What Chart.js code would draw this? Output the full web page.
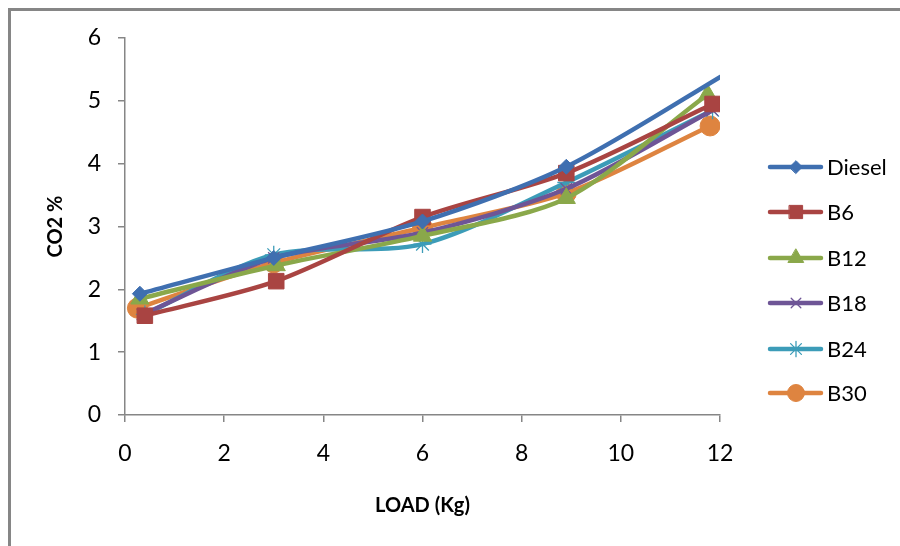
<!DOCTYPE html>
<html>
<head>
<meta charset="utf-8">
<script src="https://cdn.jsdelivr.net/npm/chart.js@4/dist/chart.umd.min.js"></script>
<style>
  html, body { margin: 0; padding: 0; background: #fff; }
  #wrap { position: relative; width: 900px; height: 546px; }
</style>
</head>
<body>
<div id="wrap"><canvas id="co2Chart"></canvas></div>
<script>
/* ---------------- DATA ---------------- */
const seriesNames = ["Diesel", "B6", "B12", "B18", "B24", "B30"];

const dieselLoad = [0.3, 3, 6, 8.9, 12.3];
const dieselCO2  = [1.93, 2.5, 3.08, 3.95, 5.52];

const b6Load = [0.4, 3.05, 6, 8.9, 11.85];
const b6CO2  = [1.58, 2.13, 3.15, 3.85, 4.95];

const b12Load = [0.3, 3.05, 6, 8.9, 11.75];
const b12CO2  = [1.85, 2.38, 2.85, 3.45, 5.1];

const b18Load = [0.35, 3, 6, 8.9, 11.85];
const b18CO2  = [1.6, 2.5, 2.9, 3.6, 4.85];

const b24Load = [0.4, 3, 6, 8.9, 11.85];
const b24CO2  = [1.6, 2.55, 2.72, 3.7, 4.85];

const b30Load = [0.25, 3, 6, 8.9, 11.8];
const b30CO2  = [1.7, 2.42, 2.98, 3.53, 4.6];

const xTicks = [0, 2, 4, 6, 8, 10, 12];
const yTicks = [0, 1, 2, 3, 4, 5, 6];

/* ---------------- STYLE ---------------- */
const colors = ["#3F6FB0", "#A94442", "#8AA84A", "#6E5596", "#3C9CB8", "#DE8440"];
const markers = ["rectRot", "rect", "triangle", "crossRot", "star", "circle"];
const radii = [7.5, 11, 10.5, 8, 9, 10];
const axisGrey = "#868686";
const FONT = "Lato, 'Open Sans', sans-serif";

const pts = (xs, ys) => xs.map((x, i) => ({ x: x, y: ys[i] }));
const allData = [
  pts(dieselLoad, dieselCO2),
  pts(b6Load, b6CO2),
  pts(b12Load, b12CO2),
  pts(b18Load, b18CO2),
  pts(b24Load, b24CO2),
  pts(b30Load, b30CO2)
];

const datasets = seriesNames.map((name, i) => {
  const thin = markers[i] === "crossRot" || markers[i] === "star";
  return {
    label: name,
    data: allData[i],
    borderColor: colors[i],
    backgroundColor: colors[i],
    borderWidth: 4.5,
    tension: 0.28,
    pointStyle: markers[i],
    pointRadius: radii[i],
    pointHoverRadius: radii[i],
    pointBackgroundColor: colors[i],
    pointBorderColor: colors[i],
    pointBorderWidth: thin ? 1.3 : 1
  };
});

/* ---------------- PLUGINS ---------------- */
const frame = {
  id: "frame",
  beforeDraw(chart) {
    const ctx = chart.ctx;
    ctx.save();
    ctx.strokeStyle = axisGrey;
    ctx.lineWidth = 3;
    ctx.beginPath();
    ctx.moveTo(9.5, 546);
    ctx.lineTo(9.5, 9.5);
    ctx.lineTo(900, 9.5);
    ctx.stroke();
    ctx.restore();
  }
};

const sideLegend = {
  id: "sideLegend",
  afterDraw(chart) {
    const ctx = chart.ctx;
    const ys = [167, 212, 258, 303, 349, 393];
    ctx.save();
    chart.data.datasets.forEach((d, i) => {
      const y = ys[i];
      ctx.strokeStyle = d.borderColor;
      ctx.lineWidth = 4.5;
      ctx.lineCap = "round";
      ctx.beginPath();
      ctx.moveTo(770, y);
      ctx.lineTo(821, y);
      ctx.stroke();
      if (Chart.helpers && Chart.helpers.drawPoint) {
        ctx.fillStyle = d.pointBackgroundColor;
        ctx.strokeStyle = d.pointBorderColor;
        ctx.lineWidth = d.pointBorderWidth;
        Chart.helpers.drawPoint(ctx, {
          pointStyle: d.pointStyle,
          radius: d.pointRadius * 0.85,
          rotation: 0,
          borderWidth: d.pointBorderWidth
        }, 796, y);
      }
      ctx.fillStyle = "#000";
      ctx.font = "22px " + FONT;
      ctx.textBaseline = "middle";
      ctx.textAlign = "left";
      ctx.fillText(d.label, 827, y + 1);
    });
    ctx.restore();
  }
};

/* ---------------- CHART ---------------- */
new Chart(document.getElementById("co2Chart"), {
  type: "line",
  data: { datasets: datasets },
  options: {
    responsive: true,
    maintainAspectRatio: false,
    animation: false,
    layout: { padding: { left: 0, right: 180, top: 38, bottom: 0 } },
    plugins: {
      legend: { display: false },
      tooltip: { enabled: false }
    },
    scales: {
      x: {
        type: "linear",
        min: 0,
        max: 12,
        afterBuildTicks: s => { s.ticks = xTicks.map(v => ({ value: v })); },
        afterFit: s => { s.height = 131; },
        border: { color: axisGrey, width: 1.5 },
        grid: { drawOnChartArea: false, color: axisGrey, tickLength: 7, lineWidth: 1.5 },
        ticks: { color: "#000", font: { family: FONT, size: 23 }, padding: 18, maxRotation: 0 },
        title: {
          display: true,
          text: "LOAD (Kg)",
          color: "#000",
          font: { family: FONT, size: 20, weight: "bold" },
          padding: { top: 0, bottom: 28 }
        }
      },
      y: {
        min: 0,
        max: 6,
        afterBuildTicks: s => { s.ticks = yTicks.map(v => ({ value: v })); },
        afterFit: s => { s.width = 125; },
        border: { color: axisGrey, width: 1.5 },
        grid: { drawOnChartArea: false, color: axisGrey, tickLength: 7, lineWidth: 1.5 },
        ticks: { color: "#000", font: { family: FONT, size: 23 }, padding: 17 },
        title: {
          display: true,
          text: "CO2 %",
          color: "#000",
          font: { family: FONT, size: 20, weight: "bold" },
          padding: { top: 44, bottom: 0 }
        }
      }
    }
  },
  plugins: [frame, sideLegend]
});
</script>
</body>
</html>
